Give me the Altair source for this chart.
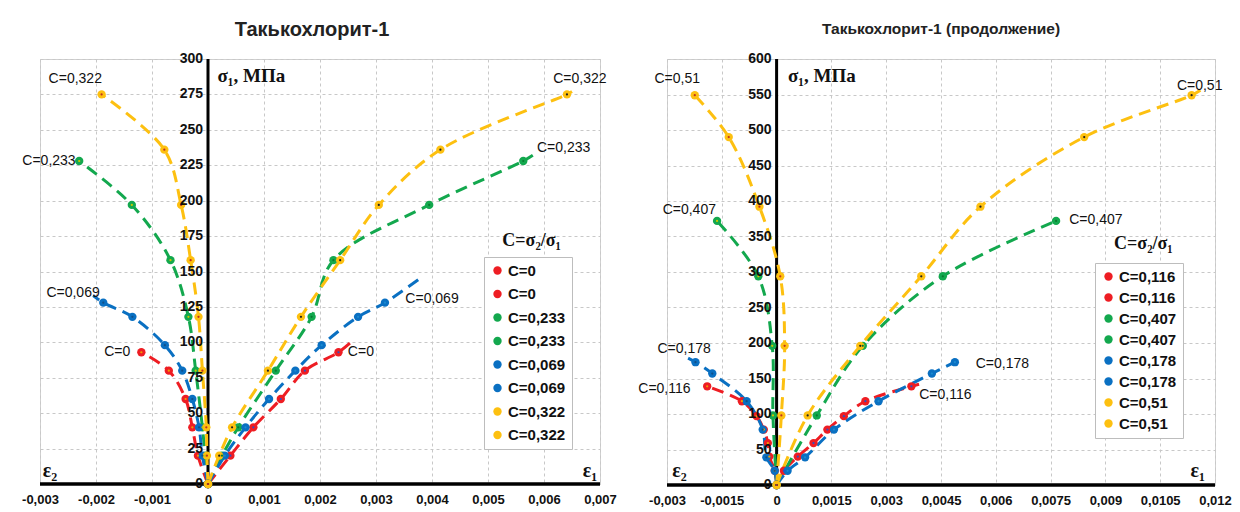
import altair as alt
import pandas as pd

NARROW = "Liberation Sans Narrow, Arial Narrow, Liberation Sans, Arial, sans-serif"
SANS = "Liberation Sans, Arial, sans-serif"
SERIF = "Liberation Serif, Times New Roman, DejaVu Serif, serif"

RED = "#EE1D23"
GREEN = "#13A84E"
BLUE = "#0A70C2"
YEL = "#FDC010"

# ---------------- Left panel: Такькохлорит-1 ----------------
L_KEYS = ["C=0", "C=0 ", "C=0,233", "C=0,233 ", "C=0,069", "C=0,069 ", "C=0,322", "C=0,322 "]
L_COLORS = [RED, RED, GREEN, GREEN, BLUE, BLUE, YEL, YEL]
L_DOTS = ["#3050c0", "#f0a000", "#0a7a30", "#c8c800", "#1a8ad0", "#10508a", "#202020", "#c03020"]

L_C0_SIG = [0, 20, 40, 60, 80, 93]
L_C0_E1 = [0, 0.0004, 0.00081, 0.0013, 0.00173, 0.00233]
L_C0_E2 = [0, -0.00018, -0.00028, -0.0004, -0.0007, -0.00119]

L_C233_SIG = [0, 20, 40, 80, 118, 158, 197, 228]
L_C233_E1 = [0, 0.00025, 0.00054, 0.00121, 0.00185, 0.00224, 0.00395, 0.00563]
L_C233_E2 = [0, -0.00005, -0.0001, -0.00022, -0.00035, -0.00067, -0.00136, -0.0023]

L_C069_SIG = [0, 20, 40, 60, 80, 98, 118, 128]
L_C069_E1 = [0, 0.0003, 0.00067, 0.00109, 0.00156, 0.00203, 0.00268, 0.00316]
L_C069_E2 = [0, -0.0001, -0.00016, -0.00028, -0.00046, -0.00077, -0.00135, -0.00187]

L_C322_SIG = [0, 20, 40, 80, 118, 158, 197, 236, 275]
L_C322_E1 = [0, 0.0002, 0.00043, 0.00107, 0.00166, 0.00236, 0.00305, 0.00415, 0.00641]
L_C322_E2 = [0, -0.00002, -0.00003, -0.0001, -0.00017, -0.00031, -0.00048, -0.00078, -0.0019]

# trend-line ends (beyond last measured point)
L_EXT_KEYS = ["C=0", "C=0,069", "C=0,233", "C=0,322", "C=0,069 "]
L_EXT_EPS = [0.00258, 0.00378, 0.0058, 0.0065, -0.00205]
L_EXT_SIG = [101, 145, 232, 277, 133]

L_LAB_TEXT = ["C=0,322", "C=0,322", "C=0,233", "C=0,233", "C=0,069", "C=0,069", "C=0", "C=0"]
L_LAB_EPS = [-0.00237, 0.00664, -0.00284, 0.00635, -0.00241, 0.0040, -0.00162, 0.00273]
L_LAB_SIG = [286, 286, 228, 237, 135, 130.6, 93, 93]

L_X_TICKS = [-0.003, -0.002, -0.001, 0, 0.001, 0.002, 0.003, 0.004, 0.005, 0.006, 0.007]
L_Y_TICKS = [0, 25, 50, 75, 100, 125, 150, 175, 200, 225, 250, 275, 300]

# ---------------- Right panel: Такькохлорит-1 (продолжение) ----------------
R_KEYS = ["C=0,116", "C=0,116 ", "C=0,407", "C=0,407 ", "C=0,178", "C=0,178 ", "C=0,51", "C=0,51 "]
R_COLORS = [RED, RED, GREEN, GREEN, BLUE, BLUE, YEL, YEL]
R_DOTS = ["#3050c0", "#f0a000", "#0a7a30", "#c8c800", "#1a8ad0", "#10508a", "#202020", "#c03020"]

R_C116_SIG = [0, 20, 40, 59, 78, 97, 118, 139]
R_C116_E1 = [0, 0.0002, 0.00058, 0.00101, 0.00139, 0.00184, 0.00243, 0.00369]
R_C116_E2 = [0, -0.00005, -0.0002, -0.00024, -0.00035, -0.00055, -0.00095, -0.0019]

R_C407_SIG = [0, 98, 196, 294, 372]
R_C407_E1 = [0, 0.0011, 0.00236, 0.00455, 0.00765]
R_C407_E2 = [0, -0.0001, -0.00012, -0.0005, -0.00163]

R_C178_SIG = [0, 20, 39, 78, 118, 157, 173]
R_C178_E1 = [0, 0.0003, 0.00078, 0.00157, 0.00279, 0.00425, 0.00488]
R_C178_E2 = [0, -0.00005, -0.00028, -0.00038, -0.00082, -0.00176, -0.00222]

R_C51_SIG = [0, 98, 196, 294, 392, 490, 549]
R_C51_E1 = [0, 0.00085, 0.00229, 0.00396, 0.00558, 0.00842, 0.01136]
R_C51_E2 = [0, 0.00013, 0.00022, 0.0001, -0.00047, -0.00131, -0.00224]

R_EXT_KEYS = ["C=0,116", "C=0,51", "C=0,178 "]
R_EXT_EPS = [0.0039, 0.0116, -0.00255]
R_EXT_SIG = [142, 556, 182]

R_LAB_TEXT = ["C=0,51", "C=0,51", "C=0,407", "C=0,407", "C=0,178", "C=0,178", "C=0,116", "C=0,116"]
R_LAB_EPS = [-0.00272, 0.01158, -0.00239, 0.00874, -0.00253, 0.00618, -0.00307, 0.00462]
R_LAB_SIG = [572, 562, 388, 373, 191, 170, 135, 127]

R_X_TICKS = [-0.003, -0.0015, 0, 0.0015, 0.003, 0.0045, 0.006, 0.0075, 0.009, 0.0105, 0.012]
R_Y_TICKS = [0, 50, 100, 150, 200, 250, 300, 350, 400, 450, 500, 550, 600]


def build(series, keys, colors, dots, ext_keys, ext_eps, ext_sig):
    pts, lines = [], []
    for k1, k2, sig, e1, e2 in series:
        for key, eps in ((k1, e1), (k2, e2)):
            j = keys.index(key)
            for i, (s, e) in enumerate(zip(sig, eps)):
                pts.append({"key": key, "eps": e, "sigma": s, "dot": dots[j]})
                lines.append({"key": key, "eps": e, "sigma": s, "idx": i, "col": colors[j]})
    for k, e, s in zip(ext_keys, ext_eps, ext_sig):
        lines.append({"key": k, "eps": e, "sigma": s, "idx": 99, "col": colors[keys.index(k)]})
    return pd.DataFrame(pts), pd.DataFrame(lines)


def panel(series, keys, colors, dots, ext, labs, xdom, xticks, ydom, yticks,
          title, tsize, toff, tdx, w, h, leg_xy, row_pad, sig_pos, e2_pos, e1_pos, legt_pos):
    pts, lines = build(series, keys, colors, dots, *ext)
    labdf = pd.DataFrame({"text": labs[0], "eps": labs[1], "sigma": labs[2]})

    xs = alt.Scale(domain=xdom, nice=False, zero=False)
    ys = alt.Scale(domain=ydom, nice=False, zero=False)
    xax = alt.Axis(values=xticks, labelExpr="replace(toString(datum.value), '.', ',')",
                   grid=True, gridDash=[3, 3], gridColor="#c8c8c8", ticks=False, domain=False,
                   labelFont=SANS, labelFontSize=13, labelFontWeight="bold", labelColor="#111",
                   labelPadding=9, labelFlush=False, labelOverlap=False, title=None)
    yax = alt.Axis(values=yticks, labels=False, ticks=False, domain=False, grid=True,
                   gridDash=[3, 3], gridColor="#c8c8c8", title=None)

    X = alt.X("eps:Q", scale=xs, axis=xax)
    Y = alt.Y("sigma:Q", scale=ys, axis=yax)

    vrule = alt.Chart(pd.DataFrame({"eps": [0]})).mark_rule(color="black", strokeWidth=3).encode(x=X)
    hrule = alt.Chart(pd.DataFrame({"sigma": [0]})).mark_rule(color="black", strokeWidth=3.5).encode(y=Y)

    line = alt.Chart(lines).mark_line(strokeDash=[12, 7], strokeWidth=3, interpolate="catmull-rom").encode(
        x=X, y=Y, stroke=alt.Stroke("col:N", scale=None), detail="key:N", order="idx:Q")

    point = alt.Chart(pts).mark_point(filled=True, size=70, opacity=1).encode(
        x=X, y=Y,
        fill=alt.Fill("key:N", scale=alt.Scale(domain=keys, range=colors),
                      legend=alt.Legend(title=None, orient="none", legendX=leg_xy[0], legendY=leg_xy[1],
                                        symbolType="circle", symbolSize=70, symbolStrokeWidth=0,
                                        labelFont=SANS, labelFontSize=15, labelFontWeight="bold",
                                        labelColor="#111", labelOffset=3,
                                        strokeColor="#bdbdbd", fillColor="white", padding=6,
                                        rowPadding=row_pad, labelLimit=200)))
    dot = alt.Chart(pts).mark_point(filled=True, size=5, opacity=1).encode(
        x=X, y=Y, color=alt.Color("dot:N", scale=None))

    ylab = alt.Chart(pd.DataFrame({"eps": [0] * len(yticks), "sigma": yticks,
                                   "text": [str(v) for v in yticks]})).mark_text(
        align="right", baseline="middle", dx=-5, font=NARROW, fontSize=14, fontWeight="bold",
        color="#111").encode(x=X, y=Y, text="text:N")

    lab = alt.Chart(labdf).mark_text(font=SANS, fontSize=14, color="#111", baseline="middle").encode(
        x=X, y=Y, text="text:N")

    sigt = alt.Chart(pd.DataFrame({"eps": [sig_pos[0]], "sigma": [sig_pos[1]], "text": ["σ₁, МПа"]})).mark_text(
        align="left", baseline="middle", font=SERIF, fontSize=19, fontWeight="bold", color="#111").encode(
        x=X, y=Y, text="text:N")
    epst = alt.Chart(pd.DataFrame({"eps": [e2_pos[0], e1_pos[0]], "sigma": [e2_pos[1], e1_pos[1]],
                                   "text": ["ε₂", "ε₁"]})).mark_text(
        baseline="middle", font=SERIF, fontSize=20, fontWeight="bold", color="#111").encode(
        x=X, y=Y, text="text:N")
    legt = alt.Chart(pd.DataFrame({"eps": [legt_pos[0]], "sigma": [legt_pos[1]], "text": ["C=σ₂/σ₁"]})).mark_text(
        baseline="middle", font=SERIF, fontSize=18, fontWeight="bold", color="#111").encode(
        x=X, y=Y, text="text:N")

    return alt.layer(vrule, hrule, line, point, dot, ylab, lab, sigt, epst, legt).properties(
        width=w, height=h,
        title=alt.TitleParams(title, fontSize=tsize, font=SANS, fontWeight="bold", anchor="middle",
                              offset=toff, dx=tdx, color="#222"))


left = panel(
    [("C=0", "C=0 ", L_C0_SIG, L_C0_E1, L_C0_E2),
     ("C=0,233", "C=0,233 ", L_C233_SIG, L_C233_E1, L_C233_E2),
     ("C=0,069", "C=0,069 ", L_C069_SIG, L_C069_E1, L_C069_E2),
     ("C=0,322", "C=0,322 ", L_C322_SIG, L_C322_E1, L_C322_E2)],
    L_KEYS, L_COLORS, L_DOTS, (L_EXT_KEYS, L_EXT_EPS, L_EXT_SIG),
    (L_LAB_TEXT, L_LAB_EPS, L_LAB_SIG),
    [-0.003, 0.007], L_X_TICKS, [0, 300], L_Y_TICKS,
    "Такькохлорит-1", 20, 12, -8, 560, 425, (444, 198), 7.5,
    (0.00017, 288), (-0.00282, 9), (0.00682, 9), (0.00578, 171.5))

right = panel(
    [("C=0,116", "C=0,116 ", R_C116_SIG, R_C116_E1, R_C116_E2),
     ("C=0,407", "C=0,407 ", R_C407_SIG, R_C407_E1, R_C407_E2),
     ("C=0,178", "C=0,178 ", R_C178_SIG, R_C178_E1, R_C178_E2),
     ("C=0,51", "C=0,51 ", R_C51_SIG, R_C51_E1, R_C51_E2)],
    R_KEYS, R_COLORS, R_DOTS, (R_EXT_KEYS, R_EXT_EPS, R_EXT_SIG),
    (R_LAB_TEXT, R_LAB_EPS, R_LAB_SIG),
    [-0.003, 0.012], R_X_TICKS, [0, 600], R_Y_TICKS,
    "Такькохлорит-1  (продолжение)", 15.5, 15, 0, 548, 426, (428, 204), 5.0,
    (0.00031, 576), (-0.00266, 19.5), (0.01153, 19.5), (0.01004, 339))

chart = alt.hconcat(left, right, spacing=67, bounds="flush").resolve_scale(
    fill="independent").resolve_legend(fill="independent").properties(
    padding={"left": 13, "top": 11, "right": 0, "bottom": 0}
).configure_view(stroke="#d0d0d0")

chart.save("out.html", embed_options={"renderer": "svg", "actions": False})
